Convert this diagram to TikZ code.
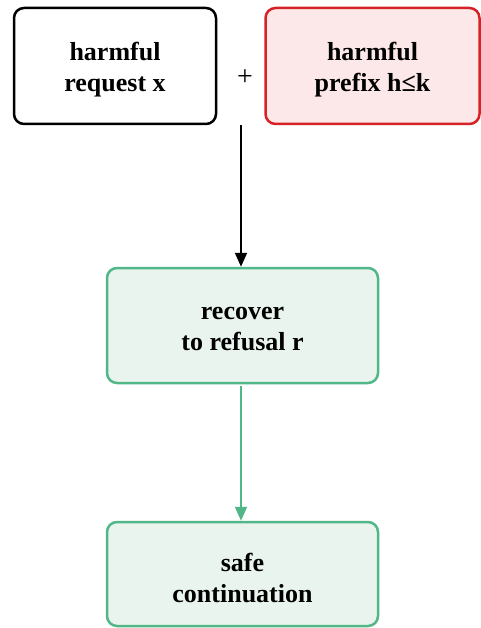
\documentclass[tikz,border=0pt]{standalone}
\usepackage{fontspec}
\setmainfont{Liberation Serif}
\usetikzlibrary{arrows.meta}
\definecolor{grnline}{RGB}{82,183,136}
\definecolor{grnfill}{RGB}{234,244,238}
\definecolor{redline}{RGB}{214,34,38}
\definecolor{redfill}{RGB}{252,232,232}
\tikzset{
  box/.style={draw, rounded corners=10pt, line width=2.5pt, inner sep=0pt},
  txt/.style={align=center, inner sep=0pt, font=\bfseries\fontsize{26}{31}\selectfont},
  conn/.style={line width=2pt, -{Triangle[length=14pt,width=12pt]}}
}
\begin{document}
\begin{tikzpicture}[x=1pt,y=-1pt]
\useasboundingbox (0,0) rectangle (481,628);
\node[box, minimum width=202pt, minimum height=116pt] (req) at (115,66) {};
\node[txt] (reqt) at ([yshift=-4pt]req.center) {harmful\\request x};
\node[box, draw=redline, fill=redfill, minimum width=214pt, minimum height=116pt] (pre) at (372.5,66) {};
\node[txt] (pret) at ([yshift=-4pt]pre.center) {harmful\\prefix h≤k};
\node[font=\fontsize{28}{30}\selectfont, inner sep=0pt] (plus) at (245,78) {+};
\node[box, draw=grnline, fill=grnfill, minimum width=271pt, minimum height=115pt] (rec) at (242.5,325.5) {};
\node[txt] (rect) at ([yshift=-3pt]rec.center) {recover\\to refusal r};
\node[box, draw=grnline, fill=grnfill, minimum width=271pt, minimum height=104pt] (safe) at (242.5,574) {};
\node[txt] (safet) at ([yshift=-4pt]safe.center) {safe\\continuation};
\coordinate (top) at (241,125);
\draw[conn] (top) -- (rec.north -| top);
\draw[conn, draw=grnline, fill=grnline] (rec.south -| top) ++(0,2) -- (safe.north -| top);
\end{tikzpicture}
\end{document}
